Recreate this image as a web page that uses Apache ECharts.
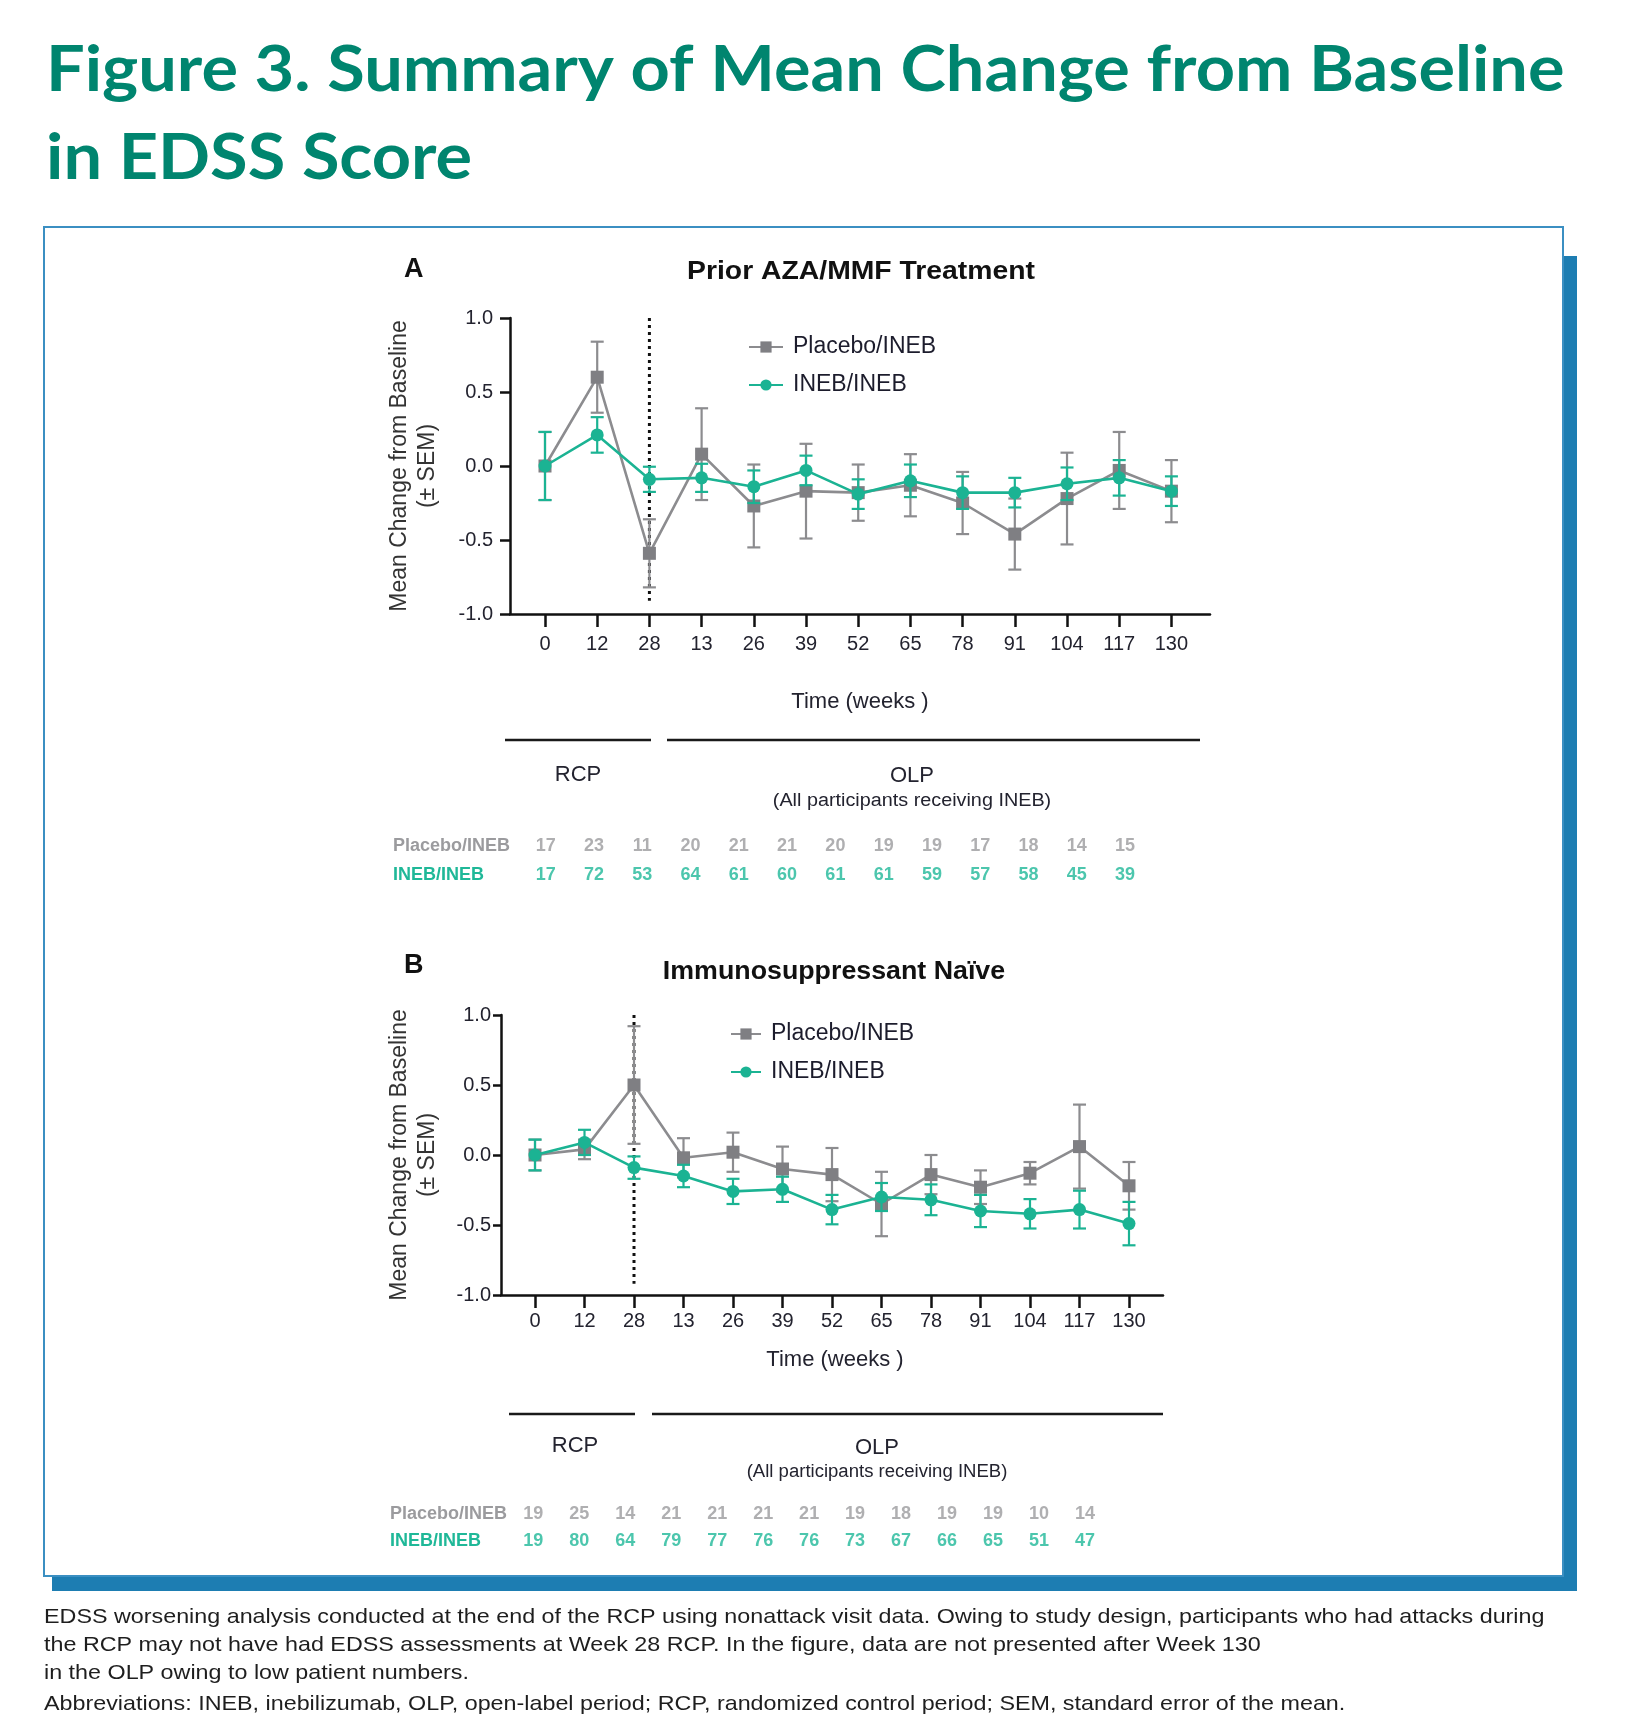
<!DOCTYPE html>
<html><head><meta charset="utf-8">
<script src="https://cdn.jsdelivr.net/npm/echarts@6/dist/echarts.min.js"></script>
<style>html,body{margin:0;padding:0;background:#fff}#c{width:1626px;height:1727px}</style>
</head><body><div id="c"></div>
<script>
// ---------- DATA ----------
const weekLabels = ['0','12','28','13','26','39','52','65','78','91','104','117','130'];
const seriesNames = ['Placebo/INEB', 'INEB/INEB'];
// Panel A: Prior AZA/MMF Treatment
const aPlaceboMean = [0, 0.60, -0.59, 0.08, -0.27, -0.17, -0.18, -0.13, -0.25, -0.46, -0.22, -0.03, -0.17];
const aPlaceboSem  = [0.23, 0.24, 0.23, 0.31, 0.28, 0.32, 0.19, 0.21, 0.21, 0.24, 0.31, 0.26, 0.21];
const aInebMean    = [0, 0.21, -0.09, -0.08, -0.14, -0.03, -0.19, -0.10, -0.18, -0.18, -0.12, -0.08, -0.17];
const aInebSem     = [0.23, 0.12, 0.085, 0.095, 0.11, 0.10, 0.10, 0.11, 0.11, 0.10, 0.11, 0.12, 0.10];
const aPlaceboN    = [17, 23, 11, 20, 21, 21, 20, 19, 19, 17, 18, 14, 15];
const aInebN       = [17, 72, 53, 64, 61, 60, 61, 61, 59, 57, 58, 45, 39];
// Panel B: Immunosuppressant Naive
const bPlaceboMean = [0, 0.04, 0.50, -0.02, 0.02, -0.10, -0.14, -0.35, -0.14, -0.23, -0.13, 0.06, -0.22];
const bPlaceboSem  = [0.11, 0.07, 0.42, 0.14, 0.14, 0.16, 0.19, 0.23, 0.14, 0.12, 0.08, 0.30, 0.17];
const bInebMean    = [0, 0.09, -0.09, -0.15, -0.26, -0.245, -0.39, -0.30, -0.32, -0.40, -0.42, -0.39, -0.49];
const bInebSem     = [0.11, 0.09, 0.08, 0.08, 0.09, 0.09, 0.105, 0.10, 0.11, 0.115, 0.105, 0.135, 0.155];
const bPlaceboN    = [19, 25, 14, 21, 21, 21, 21, 19, 18, 19, 19, 10, 14];
const bInebN       = [19, 80, 64, 79, 77, 76, 76, 73, 67, 66, 65, 51, 47];
// end of RCP (week 28) divider: category index, top, bottom
const dividerA = [2, 1.0, -0.91];
const dividerB = [2, 1.0, -0.92];
const yTicks = [-1.0, -0.5, 0.0, 0.5, 1.0];

// ---------- STYLE ----------
const GRAY = '#8c8c8f', GRAY_M = '#7f7f83', GREEN = '#1bb393';
const N_GRAY = '#9b9b9e', N_GREEN = '#1fb898';
const INK = '#23232f', AXIS = '#111';
const FONT = 'Liberation Sans';
const idx = weekLabels.map((_, i) => i);

const pts = m => m.map((v, i) => [i, v]);
const errs = (m, s) => m.map((v, i) => [i, v - s[i], v + s[i]]);
const table = (n, row) => n.map((v, i) => [i, row, v]);

function errorSeries(data, color, ai, z) {
  return {
    type: 'custom', xAxisIndex: ai, yAxisIndex: ai, z, silent: true,
    encode: { x: 0, y: [1, 2] },
    renderItem(params, api) {
      const x = api.value(0), lo = api.value(1), hi = api.value(2);
      const t = api.coord([x, hi]), b = api.coord([x, lo]);
      const w = 6.5, st = { stroke: color, lineWidth: 2.2 };
      return { type: 'group', children: [
        { type: 'line', shape: { x1: t[0], y1: t[1], x2: b[0], y2: b[1] }, style: st },
        { type: 'line', shape: { x1: t[0] - w, y1: t[1], x2: t[0] + w, y2: t[1] }, style: st },
        { type: 'line', shape: { x1: b[0] - w, y1: b[1], x2: b[0] + w, y2: b[1] }, style: st }
      ]};
    },
    data
  };
}
function lineSeries(name, data, color, mcolor, symbol, size, ai, z) {
  return { type: 'line', name, xAxisIndex: ai, yAxisIndex: ai, z, data,
    symbol, symbolSize: size, showSymbol: true,
    lineStyle: { color, width: 2.6 }, itemStyle: { color: mcolor, opacity: 1 },
    emphasis: { disabled: true }, animation: false };
}
function dividerSeries(d, ai) {
  return { type: 'line', xAxisIndex: ai, yAxisIndex: ai, z: 1, symbol: 'none', silent: true,
    data: [[d[0], d[1]], [d[0], d[2]]],
    lineStyle: { color: '#111', width: 3, type: [3, 4] }, animation: false };
}
function tableSeries(n, row, color, ai) {
  return { type: 'scatter', xAxisIndex: ai, yAxisIndex: ai, symbolSize: 1, silent: true,
    itemStyle: { color: 'transparent' }, data: table(n, row),
    label: { show: true, position: 'inside', formatter: p => p.value[2],
      color, fontWeight: 'bold', fontSize: 18, fontFamily: FONT } };
}
function mainX(gi, min, max, margin) {
  return { gridIndex: gi, type: 'value', min, max, splitLine: { show: false },
    axisLine: { show: true, onZero: false, lineStyle: { color: AXIS, width: 2.5 } },
    axisTick: { show: true, length: 13, customValues: idx, lineStyle: { color: AXIS, width: 2.5 } },
    axisLabel: { customValues: idx, formatter: v => weekLabels[Math.round(v)], margin,
      fontSize: 20, fontFamily: FONT, color: INK } };
}
function mainY(gi, tickLen, margin) {
  return { gridIndex: gi, type: 'value', min: -1, max: 1, interval: 0.5, splitLine: { show: false },
    axisLine: { show: true, onZero: false, lineStyle: { color: AXIS, width: 2.5 } },
    axisTick: { show: true, length: tickLen, customValues: yTicks, lineStyle: { color: AXIS, width: 2.5 } },
    axisLabel: { customValues: yTicks, formatter: v => v.toFixed(1), margin, fontSize: 20, fontFamily: FONT, color: INK } };
}
function tableX(gi, min, max) {
  return { gridIndex: gi, type: 'value', min, max, show: false, splitLine: { show: false } };
}
function tableY(gi, margin) {
  return { gridIndex: gi, type: 'category', inverse: true, data: seriesNames,
    axisLine: { show: false }, axisTick: { show: false },
    axisLabel: { align: 'left', margin, fontSize: 18, fontWeight: 'bold', fontFamily: FONT,
      color: (v, i) => (i === 0 ? N_GRAY : N_GREEN) } };
}
function txt(text, x, y, size, opts = {}) {
  return { type: 'text', x, y, z: 50, rotation: opts.rot || 0, scaleX: opts.sx || 1, scaleY: opts.sy || 1,
    style: { text, fontSize: size, fontFamily: opts.family || FONT, fontWeight: opts.weight || 'normal',
      fill: opts.color || INK, align: opts.align || 'center', verticalAlign: 'middle' } };
}
function hline(x1, x2, y) {
  return { type: 'line', z: 50, shape: { x1, y1: y, x2, y2: y }, style: { stroke: '#1a1a1a', lineWidth: 2.5 } };
}

const legendText = { fontSize: 23, fontFamily: FONT, color: '#1c1c2c', lineHeight: 26, padding: [0, 0, 0, 5] };
const NOTE = { align: 'left', color: '#1e1e1e', sx: 1.11 };

const option = {
  backgroundColor: '#fff',
  animation: false,
  grid: [
    { left: 510, top: 318, width: 700, height: 296 },
    { left: 501, top: 1015, width: 662, height: 280 },
    { left: 520, top: 832, width: 620, height: 58 },
    { left: 510, top: 1500, width: 600, height: 55.2 }
  ],
  xAxis: [
    mainX(0, -0.6705, 12.739, 20),
    mainX(1, -0.687, 12.687, 16),
    tableX(2, -0.532, 12.309),
    tableX(3, -0.507, 12.545)
  ],
  yAxis: [
    mainY(0, 10, 17),
    mainY(1, 8, 10),
    tableY(2, 127),
    tableY(3, 120)
  ],
  legend: [
    { data: seriesNames, orient: 'vertical', left: 743, top: 329, itemWidth: 34, itemHeight: 14,
      itemGap: 12, textStyle: legendText, selectedMode: false },
    { data: seriesNames, orient: 'vertical', left: 725, top: 1016, itemWidth: 30, itemHeight: 14,
      itemGap: 12, textStyle: legendText, selectedMode: false }
  ],
  graphic: [
    { type: 'rect', z: -20, shape: { x: 52, y: 256, width: 1525, height: 1335 }, style: { fill: '#1d7db2' } },
    { type: 'rect', z: -19, shape: { x: 44, y: 227, width: 1519, height: 1349 }, style: { fill: '#fff', stroke: '#3b8fc2', lineWidth: 2 } },
    txt('Figure 3. Summary of Mean Change from Baseline', 46, 70, 64, { family: 'Lato', weight: 'bold', color: '#00856f', align: 'left', sx: 1.07 }),
    txt('in EDSS Score', 46, 158, 64, { family: 'Lato', weight: 'bold', color: '#00856f', align: 'left', sx: 1.07 }),
    // panel A
    txt('A', 404, 270, 27, { weight: 'bold', align: 'left', color: '#111' }),
    txt('Prior AZA/MMF Treatment', 861, 272, 26, { weight: 'bold', color: '#111', sx: 1.09 }),
    txt('Mean Change from Baseline', 400, 466, 23, { rot: Math.PI / 2, color: '#333' }),
    txt('(\u00b1 SEM)', 428, 466, 23, { rot: Math.PI / 2, color: '#333' }),
    txt('Time (weeks )', 860, 702, 22),
    hline(505, 651, 740), hline(667, 1200, 740),
    txt('RCP', 578, 775, 22),
    txt('OLP', 912, 776, 22),
    txt('(All participants receiving INEB)', 912, 801, 18, { sx: 1.1 }),
    // panel B
    txt('B', 404, 966, 27, { weight: 'bold', align: 'left', color: '#111' }),
    txt('Immunosuppressant Na\u00efve', 834, 972, 26, { weight: 'bold', color: '#111', sx: 1.03 }),
    txt('Mean Change from Baseline', 400, 1155, 23, { rot: Math.PI / 2, color: '#333' }),
    txt('(\u00b1 SEM)', 428, 1155, 23, { rot: Math.PI / 2, color: '#333' }),
    txt('Time (weeks )', 835, 1360, 22),
    hline(509, 635, 1414), hline(652, 1163, 1414),
    txt('RCP', 575, 1446, 22),
    txt('OLP', 877, 1448, 22),
    txt('(All participants receiving INEB)', 877, 1472, 18, { sx: 1.03 }),
    // footnotes
    txt('EDSS worsening analysis conducted at the end of the RCP using nonattack visit data. Owing to study design, participants who had attacks during', 44, 1617, 21, NOTE),
    txt('the RCP may not have had EDSS assessments at Week 28 RCP. In the figure, data are not presented after Week 130', 44, 1645, 21, NOTE),
    txt('in the OLP owing to low patient numbers.', 44, 1673, 21, NOTE),
    txt('Abbreviations: INEB, inebilizumab, OLP, open-label period; RCP, randomized control period; SEM, standard error of the mean.', 44, 1704, 21, NOTE)
  ],
  series: [
    dividerSeries(dividerA, 0),
    errorSeries(errs(aPlaceboMean, aPlaceboSem), GRAY, 0, 3),
    lineSeries(seriesNames[0], pts(aPlaceboMean), GRAY, GRAY_M, 'rect', 13, 0, 4),
    errorSeries(errs(aInebMean, aInebSem), GREEN, 0, 5),
    lineSeries(seriesNames[1], pts(aInebMean), GREEN, GREEN, 'circle', 13, 0, 6),

    dividerSeries(dividerB, 1),
    errorSeries(errs(bPlaceboMean, bPlaceboSem), GRAY, 1, 3),
    lineSeries(seriesNames[0], pts(bPlaceboMean), GRAY, GRAY_M, 'rect', 13, 1, 4),
    errorSeries(errs(bInebMean, bInebSem), GREEN, 1, 5),
    lineSeries(seriesNames[1], pts(bInebMean), GREEN, GREEN, 'circle', 13, 1, 6),

    tableSeries(aPlaceboN, 0, N_GRAY, 2),
    tableSeries(aInebN, 1, N_GREEN, 2),
    tableSeries(bPlaceboN, 0, N_GRAY, 3),
    tableSeries(bInebN, 1, N_GREEN, 3)
  ]
};
const chart = echarts.init(document.getElementById('c'), null, { renderer: 'canvas' });
chart.setOption(option);
</script>
</body></html>
